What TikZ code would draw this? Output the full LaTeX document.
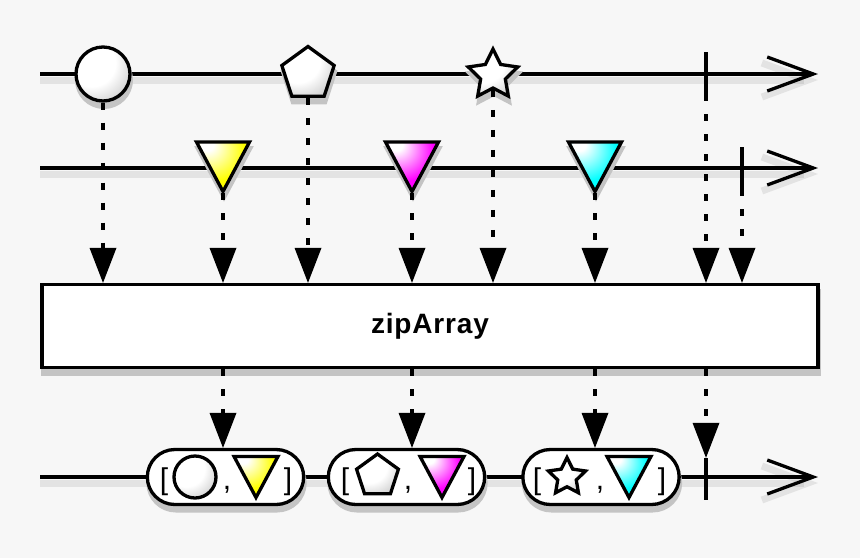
\documentclass[tikz,border=0pt]{standalone}
\usepackage{fontspec}
\setmainfont{Liberation Sans}
\usetikzlibrary{shapes.geometric,shapes.misc,arrows.meta,calc}

\definecolor{bgcol}{HTML}{F7F7F7}
\definecolor{shadowcol}{HTML}{C4C4C4}
\definecolor{mYellow}{HTML}{FFFF00}
\definecolor{mMagenta}{HTML}{FF00FF}
\definecolor{mCyan}{HTML}{00FFFF}

% glossy fills, highlight at the upper left
\pgfdeclareradialshading{glossywhite}{\pgfpoint{-16bp}{16bp}}{color(0bp)=(white); color(22bp)=(white); color(44bp)=(black!28); color(64bp)=(black!60)}
\pgfdeclareradialshading{glossyyellow}{\pgfpoint{-16bp}{24bp}}{color(0bp)=(white); color(6bp)=(white); color(30bp)=(mYellow); color(55bp)=(mYellow); color(80bp)=(mYellow!75!black)}
\pgfdeclareradialshading{glossymagenta}{\pgfpoint{-16bp}{24bp}}{color(0bp)=(white); color(6bp)=(white); color(30bp)=(mMagenta); color(55bp)=(mMagenta); color(80bp)=(mMagenta!75!black)}
\pgfdeclareradialshading{glossycyan}{\pgfpoint{-16bp}{24bp}}{color(0bp)=(white); color(6bp)=(white); color(30bp)=(mCyan); color(55bp)=(mCyan); color(80bp)=(mCyan!75!black)}

\begin{document}
\begin{tikzpicture}[
    x=1pt, y=-1pt,
    timeline/.style={line width=3.3pt, -{Straight Barb[length=46pt, width=34pt]},
        preaction={draw, line width=7pt, black, opacity=0.08, transform canvas={yshift=-6pt}}},
    ghost/.style={draw=shadowcol, fill=shadowcol, line width=4pt},
    ballshape/.style={circle, inner sep=0pt},
    pentashape/.style={regular polygon, regular polygon sides=5, inner sep=0pt},
    starshape/.style={star, star points=5, star point ratio=2, inner sep=0pt},
    boxshape/.style={rectangle, minimum width=776pt, minimum height=83pt},
    pillshape/.style={rounded rectangle, minimum width=163pt, minimum height=55pt},
    marble/.style={draw, line width=3.3pt, shade},
    ball/.style={marble, ballshape, shading=glossywhite},
    penta/.style={marble, pentashape, shading=glossywhite},
    starry/.style={marble, starshape, shading=glossywhite},
    endmark/.style={rectangle, fill=black, inner sep=0pt, minimum width=3.5pt, minimum height=42pt},
    flow/.style={line width=4pt, dash pattern=on 7pt off 13pt, -{Triangle[length=35pt, width=27pt, line width=0pt]}},
    opbox/.style={boxshape, draw, fill=white, line width=3.3pt,
        font=\fontsize{28pt}{32pt}\selectfont\bfseries\addfontfeature{LetterSpace=3}},
    pill/.style={pillshape, draw, fill=white, line width=3.3pt},
    glyph/.style={font=\fontsize{30pt}{32pt}\selectfont, anchor=base, inner sep=0pt},
    pics/downtri/.style 2 args={code={
        \path[draw, line width=3.3pt, shade, shading=glossy#1, scale=#2] (-26.5,-26) -- (26.5,-26) -- (0,23.5) -- cycle;
        \coordinate (-tip) at (0,25*#2);
    }},
    pics/trighost/.style={code={
        \path[ghost] (-26.5,-26) -- (26.5,-26) -- (0,23.5) -- cycle;
    }},
]

% background
\fill[bgcol] (0,0) rectangle (860,558);

% ====== Timelines ======
\draw[timeline] (40,74) -- (818,74);
\draw[timeline] (40,168) -- (818,168);
\draw[timeline] (40,477) -- (818,477);

% ====== Drop shadows ======
\node[ghost, ballshape, minimum size=54pt] (s1sh) at (104,80) {};
\node[ghost, pentashape, minimum size=55pt] (s2sh) at (309,80) {};
\node[ghost, starshape, minimum size=52pt] (s3sh) at (494,81) {};
\pic at (224,174) {trighost};
\pic at (413,174) {trighost};
\pic at (596,174) {trighost};
\node[ghost, boxshape] (opsh) at (431,332) {};
\node[ghost, pillshape] (p1sh) at (226.5,483) {};
\node[ghost, pillshape] (p2sh) at (407.5,483) {};
\node[ghost, pillshape] (p3sh) at (602,483) {};

% ====== First source ======
\node[ball, minimum size=54pt] (s1) at (103,74) {};
\node[penta, minimum size=55pt] (s2) at (308,74) {};
\node[starry, minimum size=52pt] (s3) at (493,75) {};
\node[endmark] (e1) at (706,73) {};

% ====== Second source ======
\pic (y1) at (223,168) {downtri={yellow}{1}};
\pic (m1) at (412,168) {downtri={magenta}{1}};
\pic (c1) at (595,168) {downtri={cyan}{1}};
\node[endmark] (e2) at (742,168) {};

% ====== Operator ======
\node[opbox] (op) at (430,326) {zipArray};

% ====== Result ======
\node[pill] (p1) at (225.5,477) {};
\node[pill] (p2) at (406.5,477) {};
\node[pill] (p3) at (601,477) {};
\node[endmark] (e3) at (706,479) {};

\node[glyph] (p1l) at (164,489) {[};
\node[ball, minimum size=42pt] (p1a) at (195,477) {};
\node[glyph] (p1c) at (227,489) {,};
\pic (p1b) at (256,478) {downtri={yellow}{0.83}};
\node[glyph] (p1r) at (288,489) {]};

\node[glyph] (p2l) at (345,489) {[};
\node[penta, minimum size=44pt] (p2a) at (377.5,476) {};
\node[glyph] (p2c) at (408,489) {,};
\pic (p2b) at (442,478) {downtri={magenta}{0.83}};
\node[glyph] (p2r) at (472,489) {]};

\node[glyph] (p3l) at (537,489) {[};
\node[starry, minimum size=39pt] (p3a) at (567,477) {};
\node[glyph] (p3c) at (600,489) {,};
\pic (p3b) at (629,478) {downtri={cyan}{0.83}};
\node[glyph] (p3r) at (662,489) {]};

% ====== Emissions into the operator ======
\draw[flow] (s1.south) -- (s1.south |- op.north);
\draw[flow] (s2.south) -- (s2.south |- op.north);
\draw[flow] (s3.south) -- (s3.south |- op.north);
\draw[flow] (e1.south) -- (e1.south |- op.north);
\draw[flow] (y1-tip) -- (y1-tip |- op.north);
\draw[flow] (m1-tip) -- (m1-tip |- op.north);
\draw[flow] (c1-tip) -- (c1-tip |- op.north);
\draw[flow] (e2.south) -- (e2.south |- op.north);

% ====== Emissions out of the operator ======
\draw[flow] (y1-tip |- op.south) -- (y1-tip |- p1.north);
\draw[flow] (m1-tip |- op.south) -- (m1-tip |- p2.north);
\draw[flow] (c1-tip |- op.south) -- (c1-tip |- p3.north);
\draw[flow] (e1.south |- op.south) -- (e3.north);

\end{tikzpicture}
\end{document}
